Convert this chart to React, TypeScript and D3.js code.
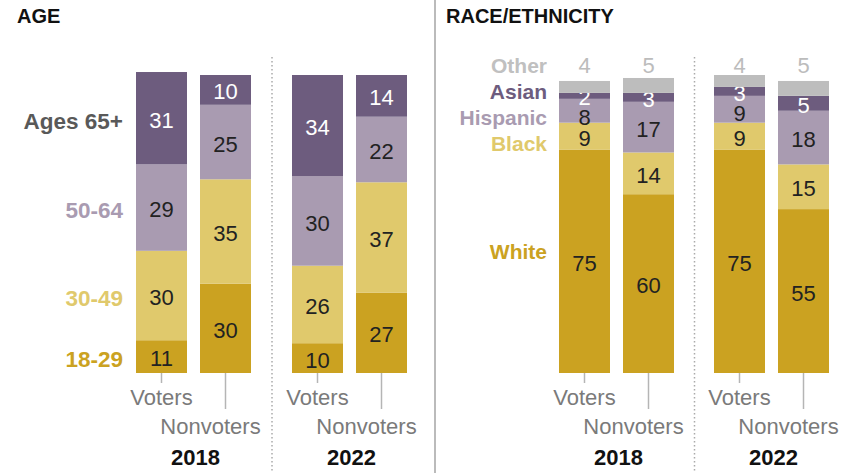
import React from "react";
import * as d3 from "d3";

// ---- data ----
const years = ["2018", "2022"];
const groupsNames = ["Voters", "Nonvoters"];
// order of each series: 2018 Voters, 2018 Nonvoters, 2022 Voters, 2022 Nonvoters
const ageKeys = ["18-29", "30-49", "50-64", "Ages 65+"];
const age18to29 = [11, 30, 10, 27];
const age30to49 = [30, 35, 26, 37];
const age50to64 = [29, 25, 30, 22];
const age65plus = [31, 10, 34, 14];

const raceKeys = ["White", "Black", "Hispanic", "Asian", "Other"];
const raceWhite = [75, 60, 75, 55];
const raceBlack = [9, 14, 9, 15];
const raceHispanic = [8, 17, 9, 18];
const raceAsian = [2, 3, 3, 5];
const raceOther = [4, 5, 4, 5];

const C_DARKP = "#6d5c7e";
const C_LIGHTP = "#a99bb1";
const C_LIGHTG = "#e0c96c";
const C_GOLD = "#cba221";
const C_GREY = "#bdbdbd";

const ageColors = [C_GOLD, C_LIGHTG, C_LIGHTP, C_DARKP];
const ageLabelColors = [C_GOLD, C_LIGHTG, C_LIGHTP, "#595959"];
const raceColors = [C_GOLD, C_LIGHTG, C_LIGHTP, C_DARKP, C_GREY];

const FONT = "'Liberation Sans', Arial, sans-serif";

const BOTTOM = 373;
const y = d3.scaleLinear().domain([0, 100]).range([BOTTOM, BOTTOM - 298]);

function buildRows(keys: string[], series: number[][]) {
  const rows: any[] = [];
  years.forEach((yr, yi) => {
    groupsNames.forEach((g, gi) => {
      const idx = yi * 2 + gi;
      const row: any = { year: yr, group: g };
      keys.forEach((k, ki) => (row[k] = series[ki][idx]));
      rows.push(row);
    });
  });
  return rows;
}

type PanelProps = {
  keys: string[];
  series: number[][];
  colors: string[];
  range: [number, number];
  pad: number;
  kind: "age" | "race";
};

function Panel({ keys, series, colors, range, pad, kind }: PanelProps) {
  const rows = buildRows(keys, series);
  const stack = d3.stack<any>().keys(keys);
  const layers = stack(rows);
  const outer = d3.scaleBand<string>().domain(years).range(range).paddingInner(pad);
  const inner = d3
    .scaleBand<string>()
    .domain(groupsNames)
    .range([0, outer.bandwidth()])
    .paddingInner(13 / 64);
  const bx = (r: any) => (outer(r.year) as number) + (inner(r.group) as number);
  const bw = inner.bandwidth();

  // label positions per bar, with a simple top-down collision avoidance
  const labelY: number[][] = layers.map((layer) => layer.map((d) => (y(d[0]) + y(d[1])) / 2 + 2));
  rows.forEach((_, i) => {
    let prev = -Infinity;
    for (let li = layers.length - 1; li >= 0; li--) {
      if (kind === "race" && layers[li].key === "Other") continue;
      const v = Math.max(labelY[li][i], prev + 20);
      labelY[li][i] = v;
      prev = v;
    }
  });

  return (
    <g>
      {layers.map((layer, li) => (
        <g key={layer.key}>
          {layer.map((d, i) => {
            const r = rows[i];
            const v = d[1] - d[0];
            const x0 = bx(r);
            const yTop = y(d[1]);
            const yBot = y(d[0]);
            const isOther = kind === "race" && layer.key === "Other";
            const textFill = colors[li] === C_DARKP ? "#ffffff" : "#222222";
            return (
              <g key={i}>
                <rect x={x0} y={yTop} width={bw} height={yBot - yTop} fill={colors[li]} />
                <text
                  x={x0 + bw / 2}
                  y={isOther ? 65 : labelY[li][i]}
                  textAnchor="middle"
                  dominantBaseline="central"
                  fontSize={22}
                  fill={isOther ? "#bcbcbc" : textFill}
                  fontFamily={FONT}
                >
                  {v}
                </text>
              </g>
            );
          })}
        </g>
      ))}
      {rows.map((r, i) => {
        const cx = bx(r) + bw / 2;
        const isVoter = r.group === "Voters";
        return (
          <g key={"t" + i}>
            <line
              x1={cx}
              x2={cx}
              y1={BOTTOM}
              y2={isVoter ? 383 : 409}
              stroke="#b5b5b5"
              strokeWidth={1.5}
            />
            <text
              x={isVoter ? cx : cx - 15}
              y={isVoter ? 397 : 426}
              textAnchor="middle"
              dominantBaseline="central"
              fontSize={22}
              fill="#7a7a7a"
              fontFamily={FONT}
            >
              {r.group}
            </text>
          </g>
        );
      })}
      {years.map((yr) => (
        <text
          key={yr}
          x={(outer(yr) as number) + outer.bandwidth() / 2 + 2}
          y={457}
          textAnchor="middle"
          dominantBaseline="central"
          fontSize={22}
          fontWeight="bold"
          fill="#111"
          fontFamily={FONT}
        >
          {yr}
        </text>
      ))}
      {/* dotted separator between years */}
      <line
        x1={(range[0] + range[1]) / 2 + 0.5}
        x2={(range[0] + range[1]) / 2 + 0.5}
        y1={57}
        y2={473}
        stroke="#aaaaaa"
        strokeWidth={1.5}
        strokeDasharray="1.5,2.5"
      />
      {/* category labels */}
      {kind === "age"
        ? layers.map((layer, li) => {
            const d = layer[0];
            return (
              <text
                key={"l" + li}
                x={123}
                y={(y(d[0]) + y(d[1])) / 2 + 3}
                textAnchor="end"
                dominantBaseline="central"
                fontSize={22.5}
                fontWeight="bold"
                fill={ageLabelColors[li]}
                fontFamily={FONT}
              >
                {layer.key}
              </text>
            );
          })
        : layers.map((layer, li) => {
            const d = layer[0];
            const fixedY = [0, 143, 117, 91, 65];
            const ly = li === 0 ? (y(d[0]) + y(d[1])) / 2 - 10 : fixedY[li];
            return (
              <text
                key={"l" + li}
                x={547}
                y={ly}
                textAnchor="end"
                dominantBaseline="central"
                fontSize={21}
                fontWeight="bold"
                fill={li === 4 ? "#c0c0c0" : raceColors[li]}
                fontFamily={FONT}
              >
                {layer.key}
              </text>
            );
          })}
    </g>
  );
}

export default function App() {
  return (
    <svg width={843} height={473} style={{ display: "block", position: "absolute", left: 0, top: 0 }}>
      <rect width={843} height={473} fill="#ffffff" />
      <text x={17} y={16} dominantBaseline="central" fontSize={20} fontWeight="bold" fill="#111" fontFamily={FONT}>
        AGE
      </text>
      <text x={446} y={16} dominantBaseline="central" fontSize={20} fontWeight="bold" fill="#111" fontFamily={FONT}>
        RACE/ETHNICITY
      </text>
      <line x1={435} x2={435} y1={0} y2={473} stroke="#bbbbbb" strokeWidth={2} />
      <Panel
        kind="age"
        keys={ageKeys}
        series={[age18to29, age30to49, age50to64, age65plus]}
        colors={ageColors}
        range={[136, 407]}
        pad={41 / 156}
      />
      <Panel
        kind="race"
        keys={raceKeys}
        series={[raceWhite, raceBlack, raceHispanic, raceAsian, raceOther]}
        colors={raceColors}
        range={[559, 829]}
        pad={40 / 155}
      />
    </svg>
  );
}
